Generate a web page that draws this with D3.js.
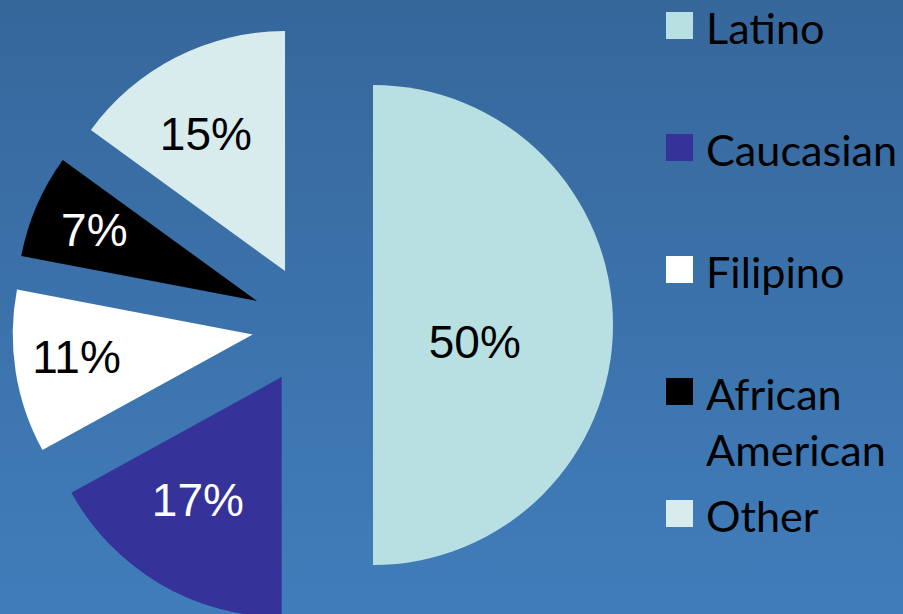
<!DOCTYPE html>
<html>
<head>
<meta charset="utf-8">
<script src="https://cdn.jsdelivr.net/npm/d3@7"></script>
<style>
  html, body { margin: 0; padding: 0; overflow: hidden; }
  svg { display: block; }
</style>
</head>
<body>
<div id="chart"></div>
<script>
// Data
const categories = ["Latino", "Caucasian", "Filipino", "African American", "Other"];
const values = [50, 17, 11, 7, 15];
const percentLabels = ["50%", "17%", "11%", "7%", "15%"];
const legendLines = [["Latino"], ["Caucasian"], ["Filipino"], ["African", "American"], ["Other"]];

// Styling
const sliceColors = ["#b8e0e3", "#35339a", "#ffffff", "#000000", "#d8eced"];
const labelColors = ["#000000", "#ffffff", "#000000", "#ffffff", "#000000"];
// where each percent label sits inside its slice (fraction of radius, angle nudge in degrees)
const labelRadius = [0.43, 0.62, 0.74, 0.74, 0.66];
const labelNudge = [9.4, 3.7, 1.9, 0.3, -3];

const size = { width: 903, height: 614 };
const center = { x: 312.5, y: 325 };
const radius = 240;
const explode = 60.5;

const svg = d3.select("#chart").append("svg")
    .attr("width", size.width)
    .attr("height", size.height);

// Background gradient
const grad = svg.append("defs").append("linearGradient")
    .attr("id", "bg")
    .attr("x1", 0).attr("y1", 0).attr("x2", 0).attr("y2", 1);
grad.append("stop").attr("offset", "0%").attr("stop-color", "#36679b");
grad.append("stop").attr("offset", "100%").attr("stop-color", "#417dbb");

svg.append("rect")
    .attr("width", size.width)
    .attr("height", size.height)
    .attr("fill", "url(#bg)");

// Exploded pie
const pie = d3.pie().sort(null).value(d => d);
const arc = d3.arc().innerRadius(0).outerRadius(radius);

const pieG = svg.append("g")
    .attr("transform", `translate(${center.x}, ${center.y})`);

const slices = pieG.selectAll(".slice")
    .data(pie(values))
    .enter()
    .append("g")
    .attr("class", "slice")
    .attr("transform", d => {
        const mid = (d.startAngle + d.endAngle) / 2;
        return `translate(${explode * Math.sin(mid)}, ${-explode * Math.cos(mid)})`;
    });

slices.append("path")
    .attr("d", arc)
    .attr("fill", (_, i) => sliceColors[i]);

slices.append("text")
    .attr("transform", (d, i) => {
        const a = (d.startAngle + d.endAngle) / 2 + labelNudge[i] * Math.PI / 180;
        const r = radius * labelRadius[i];
        return `translate(${r * Math.sin(a)}, ${-r * Math.cos(a)})`;
    })
    .attr("text-anchor", "middle")
    .attr("dy", ".35em")
    .style("font-family", "'Liberation Sans', Arial, sans-serif")
    .style("font-size", "46px")
    .attr("fill", (_, i) => labelColors[i])
    .text((_, i) => percentLabels[i]);

// Legend
const legendX = 666;
const legendTop = 12;
const legendStep = 122;
const swatch = 27;

const legend = svg.append("g").attr("class", "legend");
const items = legend.selectAll(".item")
    .data(categories)
    .enter()
    .append("g")
    .attr("class", "item")
    .attr("transform", (_, i) => `translate(${legendX}, ${legendTop + i * legendStep})`);

items.append("rect")
    .attr("width", swatch)
    .attr("height", swatch)
    .attr("fill", (_, i) => sliceColors[i]);

const legendText = items.append("text")
    .attr("x", 40)
    .attr("y", swatch + 5)
    .style("font-family", "Lato, 'Open Sans', sans-serif")
    .style("font-size", "47px")
    .attr("fill", "#000");

legendText.selectAll("tspan")
    .data((_, i) => legendLines[i])
    .enter()
    .append("tspan")
    .attr("x", 40)
    .attr("dy", (_, j) => j === 0 ? 0 : 56)
    .text(d => d);

// fit the legend font so "Caucasian" spans about 191px like the reference
const probe = legendText.filter((_, i) => i === 1).node();
const w = probe.getComputedTextLength();
if (w > 0) legendText.style("font-size", (47 * 191 / w).toFixed(1) + "px");
</script>
</body>
</html>
